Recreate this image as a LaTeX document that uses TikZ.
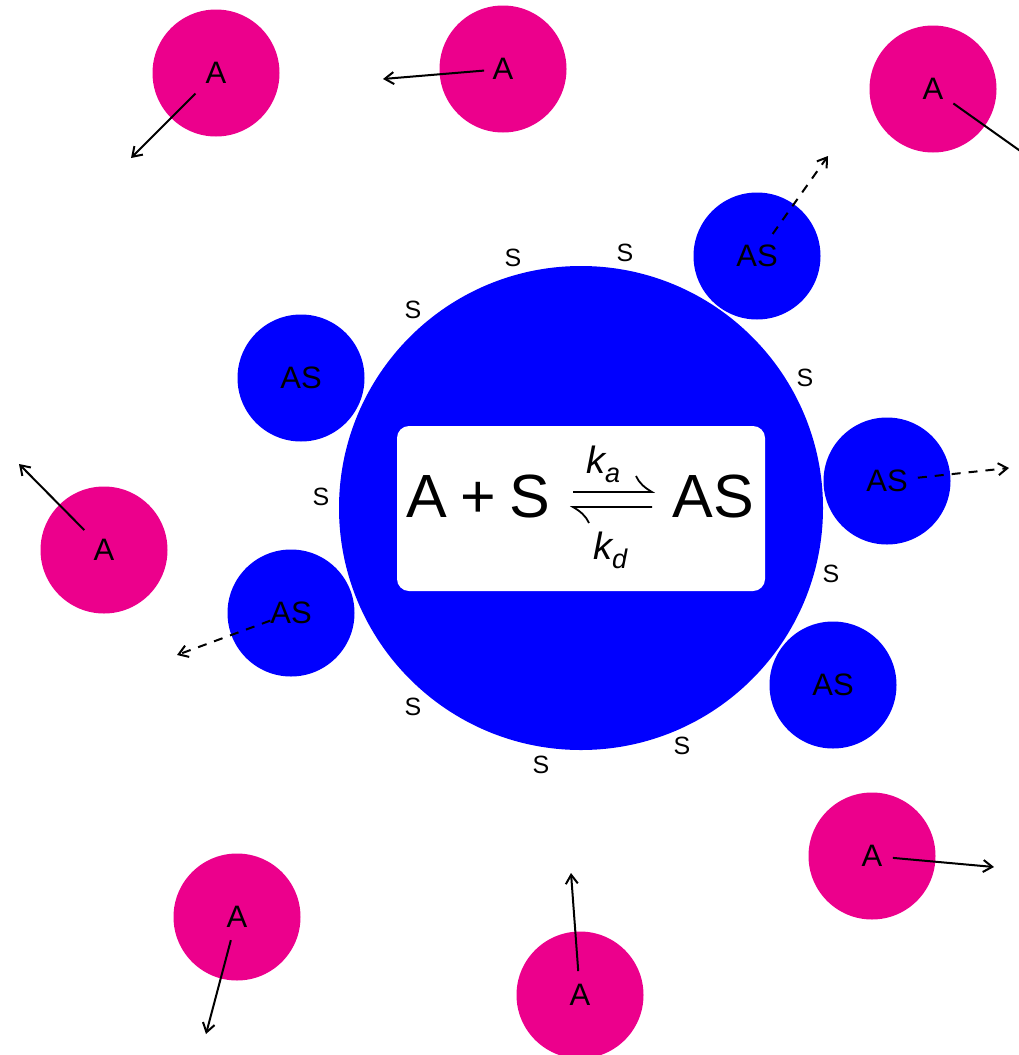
\documentclass[tikz,border=0pt]{standalone}
\usepackage{fontspec}
\setmainfont{Liberation Sans}
\usetikzlibrary{arrows.meta}
\definecolor{pinkA}{RGB}{236,0,140}
\definecolor{blueS}{RGB}{0,0,255}
\begin{document}
\begin{tikzpicture}[x=1pt,y=-1pt,
  adot/.style={circle,fill=pinkA,minimum size=127pt,inner sep=0pt,font=\fontsize{31}{31}\selectfont},
  asdot/.style={circle,fill=blueS,minimum size=127pt,inner sep=0pt,font=\fontsize{31}{31}\selectfont},
  slab/.style={inner sep=0pt,font=\fontsize{25}{25}\selectfont},
  move/.style={line width=2pt,-{Straight Barb[length=9pt,width=12pt]}},
  desorb/.style={move,dash pattern=on 9pt off 8pt},
  eqtxt/.style={inner sep=0pt,anchor=base,font=\fontsize{61}{61}\selectfont},
  ktxt/.style={inner sep=0pt,anchor=base west,font=\fontsize{38}{38}\selectfont\itshape},
  harp/.style={line width=1.8pt}
]
\useasboundingbox (0,0) rectangle (1019,1055);
\clip (0,0) rectangle (1019,1055);

% big particle
\node[circle,fill=blueS,minimum size=484pt,inner sep=0pt] (core) at (581,508) {};
\node[fill=white,rounded corners=12pt,minimum width=368pt,minimum height=165pt,inner sep=0pt] (eqbox) at (581,508.5) {};

% equation
\node[eqtxt] (lhs) at (478,517) {A\hspace{0.22em}+\hspace{0.22em}S};
\node[eqtxt] (rhs) at (713,517) {AS};
\node[ktxt] (ka) at (586,473) {k\raisebox{-0.25em}{\fontsize{27}{27}\selectfont a}};
\node[ktxt] (kd) at (593,559) {k\raisebox{-0.25em}{\fontsize{27}{27}\selectfont d}};
\coordinate (h1a) at (573,492);
\coordinate (h1b) at (652,492);
\coordinate (h2a) at (573,507);
\coordinate (h2b) at (652,507);
\draw[harp] (h1a) -- (h1b) .. controls (645,488) and (639,483) .. (636,476);
\draw[harp] (h2b) -- (h2a) .. controls (580,511) and (586,516) .. (589,523);

% adsorbed complexes
\node[asdot] (as1) at (757,256) {AS};
\node[asdot] (as2) at (301,378) {AS};
\node[asdot] (as3) at (887,481) {AS};
\node[asdot] (as4) at (291,613) {AS};
\node[asdot] (as5) at (833,685) {AS};

% free analyte
\node[adot] (a1) at (216,73) {A};
\node[adot] (a2) at (503,69) {A};
\node[adot] (a3) at (933,89) {A};
\node[adot] (a4) at (104,550) {A};
\node[adot] (a5) at (872,856) {A};
\node[adot] (a6) at (237,917) {A};
\node[adot] (a7) at (580,995) {A};

% free sites
\node[slab] (s1) at (513,258) {S};
\node[slab] (s2) at (625,253) {S};
\node[slab] (s3) at (413,310) {S};
\node[slab] (s4) at (805,378) {S};
\node[slab] (s5) at (321,497) {S};
\node[slab] (s6) at (831,574) {S};
\node[slab] (s7) at (413,707) {S};
\node[slab] (s8) at (541,765) {S};
\node[slab] (s9) at (682,746) {S};

% motion of free analyte
\coordinate (t1) at (131,158);
\coordinate (t2) at (383,79);
\coordinate (t3) at (1040,165);
\coordinate (t4) at (19,464);
\coordinate (t5) at (994,867);
\coordinate (t6) at (206,1034);
\coordinate (t7) at (571,873);
\draw[move,shorten <=29pt] (a1.center) -- (t1);
\draw[move,shorten <=19pt] (a2.center) -- (t2);
\draw[move,shorten <=25pt] (a3.center) -- (t3);
\draw[move,shorten <=28pt] (a4.center) -- (t4);
\draw[move,shorten <=21pt] (a5.center) -- (t5);
\draw[move,shorten <=24pt] (a6.center) -- (t6);
\draw[move,shorten <=24pt] (a7.center) -- (t7);

% desorption
\coordinate (d1) at (828,156);
\coordinate (d3) at (1009,468);
\coordinate (d4) at (177,655);
\draw[desorb,shorten <=27pt] (as1.center) -- (d1);
\draw[desorb,shorten <=31pt] (as3.center) -- (d3);
\draw[desorb,shorten <=22pt] (as4.center) -- (d4);
\end{tikzpicture}
\end{document}
